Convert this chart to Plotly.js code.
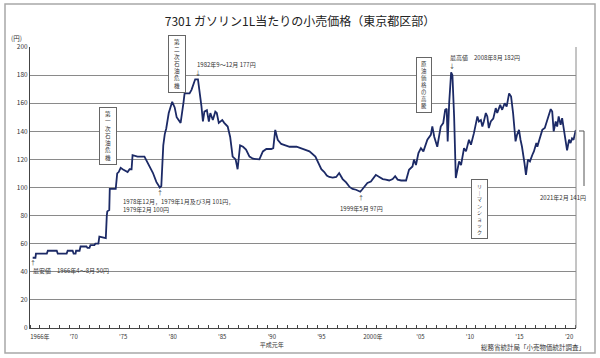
<!DOCTYPE html>
<html><head><meta charset="utf-8">
<script src="https://cdn.plot.ly/plotly-3.0.1.min.js"></script>
<style>html,body{margin:0;padding:0;background:#fff}#chart{width:600px;height:358px}</style>
</head><body><div id="chart"></div>
<script>
// Monthly-ish readings (year as decimal, price in yen per litre)
const years = [1966.27,1966.55,1966.6,1967.7,1967.8,1968.7,1968.8,1969.7,1969.8,1970.3,1970.4,1970.6,1970.65,1971.0,1971.1,1971.7,1971.8,1972.0,1972.1,1972.5,1972.6,1972.9,1973.0,1973.5,1973.65,1973.75,1973.8,1974.0,1974.05,1974.65,1974.8,1974.95,1975.15,1975.35,1975.65,1975.85,1976.05,1976.25,1976.35,1976.85,1977.55,1977.85,1978.4,1978.75,1979.0,1979.1,1979.25,1979.35,1979.45,1979.6,1979.75,1980.0,1980.35,1980.6,1980.8,1981.2,1981.4,1981.5,1981.6,1982.1,1982.3,1982.5,1982.67,1982.95,1983.1,1983.3,1983.45,1983.6,1983.85,1984.05,1984.2,1984.45,1984.7,1984.85,1985.05,1985.4,1985.6,1985.95,1986.2,1986.45,1986.75,1986.95,1987.2,1987.5,1987.8,1988.15,1988.5,1988.85,1989.15,1989.5,1989.85,1990.35,1990.55,1990.75,1991.0,1991.35,1992.2,1992.9,1993.5,1994.2,1994.8,1995.05,1995.4,1995.7,1995.95,1996.2,1996.55,1996.9,1997.2,1997.55,1997.9,1998.25,1998.55,1998.9,1999.33,1999.5,1999.75,2000.05,2000.4,2000.65,2000.9,2001.25,2001.6,2001.9,2002.25,2002.6,2002.85,2003.1,2003.45,2003.95,2004.1,2004.25,2004.6,2004.75,2004.95,2005.2,2005.45,2005.7,2006.1,2006.3,2006.45,2006.6,2006.8,2007.1,2007.45,2007.7,2007.9,2008.05,2008.15,2008.3,2008.4,2008.5,2008.63,2008.8,2008.97,2009.3,2009.5,2009.8,2010.0,2010.3,2010.5,2010.8,2011.15,2011.3,2011.5,2011.65,2011.8,2012.0,2012.15,2012.3,2012.5,2012.75,2013.0,2013.15,2013.45,2013.65,2013.9,2014.1,2014.35,2014.55,2014.75,2014.9,2015.0,2015.15,2015.35,2015.5,2015.65,2015.9,2016.05,2016.25,2016.45,2016.7,2016.85,2017.1,2017.2,2017.35,2017.7,2017.95,2018.2,2018.35,2018.55,2018.7,2018.85,2019.05,2019.2,2019.35,2019.55,2019.7,2019.9,2020.05,2020.2,2020.4,2020.55,2020.7,2020.85,2021.08];
const prices = [50,50,53,53,55,55,53,53,55,55,53,53,55,55,58,58,57,57,59,59,60,60,65,64,64,80,83,84,99,99,110,111,114,113,112,111,113,113,123,122,122,118,110.5,104,101,100,101,120,130,138,142,153,161,157,150,146,154,161,167,167,169.5,173,177,177,170,158,147,154,155,147,153,148,154,153,146,148,146,143.4,136,122,120,113,130,129,127,122,120.5,120.5,120,125.7,127.4,127.4,128,141,134,131,129,129,127.4,125.7,122,118,113,111,108.5,107.5,107,107.5,110.3,106,103.6,100.4,99,98.4,97,98.4,100.8,103.2,104.3,106.7,109,107.5,106,105.6,105,106,108,105.6,105,105,109,112.6,115,119.8,116,124.5,128,125.7,134,136,137.5,143.4,136,129,143.4,145.8,155.3,156,132.8,160,172,182,180,150.5,106.7,118.5,116,128,125.7,134,130.4,138.7,150.6,147,148,143.4,147,153,150.6,142.3,147,149,156.5,153,158.8,155.3,160,157.6,167,164.7,153,143.4,132.8,137.5,141,134,129,117.4,109,119.8,118.6,123.3,125.7,131.6,129,132.8,141,142.3,148,151.7,155.8,154,139.9,147,143.4,150.6,144.6,149.4,141,135,126.4,134,131.6,135,134,141];
const tickYears = [1966,1970,1975,1980,1985,1990,1995,2000,2005,2010,2015,2020];
const tickText = ['1966年','’70','’75','’80','’85','’90<br>平成元年','’95','2000年','’05','’10','’15','’20'];
const yTicks = [0,20,40,60,80,100,120,140,160,180,200];

// pixel -> paper helpers (layout geometry only)
const L=30, R=576, T=47, B=328;
const PX = p => (p-L)/(R-L);
const PY = p => (B-p)/(B-T);

const JP = '"Noto Sans CJK JP", "Noto Sans", sans-serif';
const tickPos = tickYears.map((y,i)=> i===0 ? y+1.0 : (tickText[i].startsWith('2000') ? y+0.6 : y+0.4));

const vert = s => Array.from(s).join('<br>');
const txt = (x,y,t,opt={}) => Object.assign({xref:'paper',yref:'paper',x:PX(x),y:PY(y),text:t,showarrow:false,
  font:{family:JP,size:6,color:'#333'},xanchor:'left',yanchor:'middle',align:'left'},opt);
const box = (x,y,t,fs,w) => ({xref:'paper',yref:'paper',x:PX(x),y:PY(y),text:vert(t),showarrow:false,
  font:{family:JP,size:fs,color:'#333'},xanchor:'center',yanchor:'middle',bordercolor:'#666',borderwidth:1,
  borderpad:2,bgcolor:'#fff',width:w,align:'center'});

const annotations = [
  box(107.5,135.5,'第一次石油危機',5.6,12),
  box(177,64,'第二次石油危機',5.6,12),
  box(423.5,85,'原油価格の高騰',5.4,10),
  box(479,209,'リ｜マンショック',5.0,11),
  txt(195,64,'1982年9～12月 177円'),
  txt(198,72,'↓',{xanchor:'center'}),
  txt(448,57,'最高値　2008年8月 182円'),
  txt(452,65,'↓',{xanchor:'center'}),
  txt(160,192,'↑',{xanchor:'center'}),
  txt(121,205.5,'1978年12月，1979年1月及び3月 101円，<br>1979年2月 100円'),
  txt(33,262,'↑',{xanchor:'center'}),
  txt(31,270,'最安値　1966年4～8月 50円'),
  txt(361,198,'↑',{xanchor:'center'}),
  txt(361,208,'1999年5月 97円',{xanchor:'center'}),
  txt(588,197,'2021年2月 141円',{xanchor:'right'}),
  txt(587,347,'総務省統計局「小売物価統計調査」',{xanchor:'right',font:{family:JP,size:6.5,color:'#333'}}),
  txt(24,38,'(円)',{xanchor:'right',font:{family:JP,size:6.5,color:'#333'}})
];

const shapes = [
  {type:'rect',xref:'paper',yref:'paper',x0:PX(5),x1:PX(595),y0:PY(4),y1:PY(353),line:{color:'#a8a8a8',width:1.5}},
  {type:'line',xref:'paper',yref:'paper',x0:1,x1:1,y0:0,y1:1,line:{color:'#8a8a8a',width:1}},
  {type:'line',xref:'paper',yref:'paper',x0:PX(579),x1:PX(584),y0:PY(131),y1:PY(131),line:{color:'#555',width:1}},
  {type:'line',xref:'paper',yref:'paper',x0:PX(584),x1:PX(584),y0:PY(131),y1:PY(186),line:{color:'#555',width:1}}
];

const trace = {x:years,y:prices,type:'scatter',mode:'lines',line:{color:'#1c2a66',width:1.8},hoverinfo:'skip'};

const layout = {
  width:600,height:358,margin:{l:L,r:600-R,t:T,b:358-B},
  paper_bgcolor:'#fff',plot_bgcolor:'#fff',showlegend:false,
  title:{text:'7301 ガソリン1L当たりの小売価格（東京都区部）',x:0.5,xanchor:'center',y:1-22/358,yanchor:'middle',
    font:{family:JP,size:12,color:'#222'}},
  xaxis:{range:[1966,2021.1],tickmode:'array',tickvals:tickPos,ticktext:tickText,ticks:'',ticklabelstandoff:3,
    tickfont:{family:JP,size:6,color:'#333'},showgrid:false,zeroline:false,showline:true,linecolor:'#444',linewidth:1,
    minor:{tickmode:'linear',tick0:1966,dtick:1,ticks:'inside',ticklen:3,tickcolor:'#444',showgrid:false}},
  yaxis:{range:[0,200],tickmode:'array',tickvals:yTicks,ticks:'',tickfont:{family:JP,size:6.5,color:'#333'},
    showgrid:true,gridcolor:'#8a8a8a',gridwidth:1,zeroline:false,showline:true,linecolor:'#444',linewidth:1},
  annotations:annotations,shapes:shapes
};
Plotly.newPlot('chart',[trace],layout,{staticPlot:true,displayModeBar:false});
</script></body></html>
